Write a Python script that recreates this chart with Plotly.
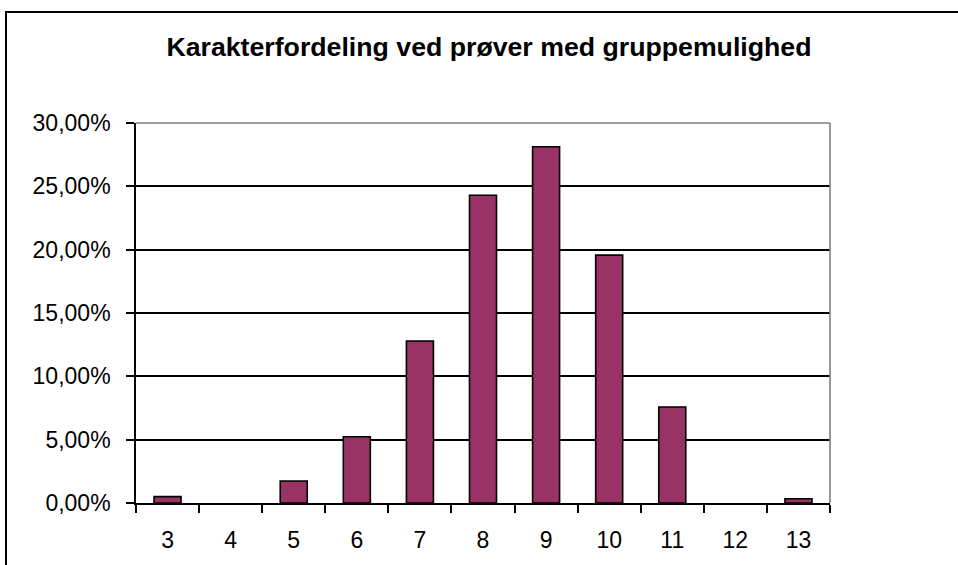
import plotly.graph_objects as go

# Karakterfordeling (andel af prøver pr. karakter)
grades = ["3", "4", "5", "6", "7", "8", "9", "10", "11", "12", "13"]
shares = [0.0050, 0.0, 0.0174, 0.0523, 0.1279, 0.2430, 0.2812, 0.1957, 0.0758, 0.0, 0.0034]

title = "Karakterfordeling ved prøver med gruppemulighed"
bar_color = "#993366"
font = "Liberation Sans, Arial, sans-serif"

W, H = 958, 565
ml, mr, mt, mb = 136, 128, 123, 62
lw = 1.6

fig = go.Figure()
fig.add_bar(
    x=grades,
    y=shares,
    marker={
        "color": bar_color,
        # no outline on empty bars
        "line": {"color": "black", "width": [lw if v > 0 else 0 for v in shares]},
    },
    showlegend=False,
)

fig.update_layout(
    width=W,
    height=H,
    margin={"l": ml, "r": mr, "t": mt, "b": mb, "pad": 0},
    paper_bgcolor="white",
    plot_bgcolor="white",
    separators=",.",
    bargap=0.572,
    font={"family": font, "color": "black", "size": 23},
    title={
        "text": "<b>" + title + "</b>",
        "font": {"family": font, "size": 26.7, "color": "black"},
        "xref": "paper",
        "x": 0.5086,
        "xanchor": "center",
        "yref": "container",
        "y": 1 - 46.6 / H,
        "yanchor": "middle",
    },
)

fig.update_xaxes(
    type="category",
    range=[-0.5, len(grades) - 0.5],
    showline=True,
    linecolor="black",
    linewidth=lw,
    ticks="outside",
    tickson="boundaries",
    ticklen=8,
    tickwidth=lw,
    tickcolor="black",
    showgrid=False,
    ticklabelstandoff=16,
    tickfont={"size": 23},
)
fig.update_yaxes(
    range=[0, 0.30],
    tickvals=[0, 0.05, 0.10, 0.15, 0.20, 0.25, 0.30],
    tickformat=".2%",
    showline=True,
    linecolor="black",
    linewidth=lw,
    ticks="outside",
    ticklen=8,
    tickwidth=lw,
    tickcolor="black",
    showgrid=True,
    gridcolor="black",
    gridwidth=lw,
    zeroline=False,
    ticklabelstandoff=11,
    tickfont={"size": 23},
)

# grå ramme om plotområdet (top og højre)
pw = W - ml - mr
ph = H - mt - mb
for x0, y0, x1, y1 in [(0, 1, 1, 1), (1, 0, 1, 1)]:
    fig.add_shape(
        type="line", xref="paper", yref="paper",
        x0=x0, y0=y0, x1=x1, y1=y1,
        line={"color": "#808080", "width": 1.6},
        layer="above",
    )

# ydre sort kant om diagrammet
fig.add_shape(
    type="rect", xref="paper", yref="paper",
    x0=(6 - ml) / pw, y0=-0.4, x1=1.4, y1=(H - mb - 12) / ph,
    line={"color": "black", "width": 2},
    fillcolor="rgba(0,0,0,0)",
    layer="above",
)

fig.write_html(
    "out.html",
    config={"displayModeBar": False},
    post_script="document.body.style.margin='0px';document.body.style.overflow='hidden';",
)
